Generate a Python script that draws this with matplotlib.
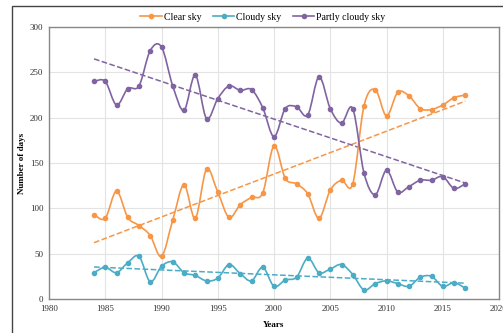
import numpy as np
import matplotlib
matplotlib.use("Agg")
import matplotlib.pyplot as plt
from matplotlib.path import Path
from matplotlib.patches import PathPatch, Rectangle
from matplotlib.lines import Line2D

years = list(range(1984, 2018))

clear_sky = [93, 89, 119, 90, 81, 70, 47, 87, 126, 89, 143, 118, 90, 104, 112, 117,
             169, 133, 127, 116, 89, 120, 131, 127, 213, 231, 202, 228, 224, 210,
             209, 214, 222, 225]
cloudy_sky = [29, 35, 29, 40, 47, 19, 36, 41, 29, 26, 20, 23, 38, 28, 20, 35,
              14, 21, 24, 45, 29, 33, 38, 27, 10, 17, 20, 17, 14, 24,
              25, 14, 18, 12]
partly_cloudy = [240, 240, 214, 232, 235, 274, 278, 235, 208, 247, 199, 221, 235, 230,
                 231, 211, 179, 210, 212, 203, 245, 210, 194, 210, 139, 115,
                 142, 118, 124, 131, 131, 135, 122, 127]

series = [
    ("Clear sky", clear_sky, "#F79646"),
    ("Cloudy sky", cloudy_sky, "#4BACC6"),
    ("Partly cloudy sky", partly_cloudy, "#8064A2"),
]

plt.rcParams["font.family"] = ["Liberation Serif", "DejaVu Serif"]


def smooth_path(x, y):
    """Catmull-Rom style smoothing drawn as cubic Bezier segments."""
    pts = np.column_stack([x, y]).astype(float)
    n = len(pts)
    verts = [pts[0]]
    codes = [Path.MOVETO]
    for i in range(n - 1):
        p0 = pts[max(i - 1, 0)]
        p1 = pts[i]
        p2 = pts[i + 1]
        p3 = pts[min(i + 2, n - 1)]
        c1 = p1 + (p2 - p0) / 6.0
        c2 = p2 - (p3 - p1) / 6.0
        verts += [c1, c2, p2]
        codes += [Path.CURVE4] * 3
    return Path(verts, codes)


fig = plt.figure(figsize=(5.03, 3.33), dpi=100)
ax = fig.add_axes([49 / 503, 1 - 299 / 333, 450 / 503, 272 / 333])

x = np.array(years)
handles = []
for name, vals, color in series:
    ax.add_patch(PathPatch(smooth_path(x, vals), facecolor="none",
                           edgecolor=color, lw=1.2, zorder=3))
    ax.plot(x, vals, "o", color=color, markersize=3, zorder=4)
    k, b = np.polyfit(x, vals, 1)
    ax.plot([x[0], x[-1]], [k * x[0] + b, k * x[-1] + b], "--",
            color=color, lw=1.1, zorder=2)
    handles.append(Line2D([], [], color=color, lw=1.2, marker="o", markersize=3))

ax.set_xlim(1980, 2020)
ax.set_ylim(0, 300)
ax.set_xticks(range(1980, 2021, 5))
ax.set_yticks(range(0, 301, 50))
ax.grid(True, color="#e3e3e3", lw=0.8)
ax.set_axisbelow(True)
for s in ax.spines.values():
    s.set_color("#888888")
    s.set_linewidth(1.0)
ax.tick_params(length=0, labelsize=6.5, pad=4, colors="#333333")
ax.set_xlabel("Years", fontsize=6.5, fontweight="bold", labelpad=6)
ax.set_ylabel("Number of days", fontsize=6.5, fontweight="bold", labelpad=3)

fig.legend(handles, [s[0] for s in series], loc="center", bbox_to_anchor=(263 / 503, 1 - 17 / 333),
           ncol=3, frameon=False, fontsize=7, handlelength=2.2, handletextpad=0.2,
           columnspacing=1.2)

# outer chart frame
fig.patches.append(Rectangle((12 / 503, -0.1), 1.2, 1.1 - 6 / 333,
                             transform=fig.transFigure, fill=False,
                             edgecolor="#444444", lw=1.0))

fig.savefig("out.png", dpi=100)
